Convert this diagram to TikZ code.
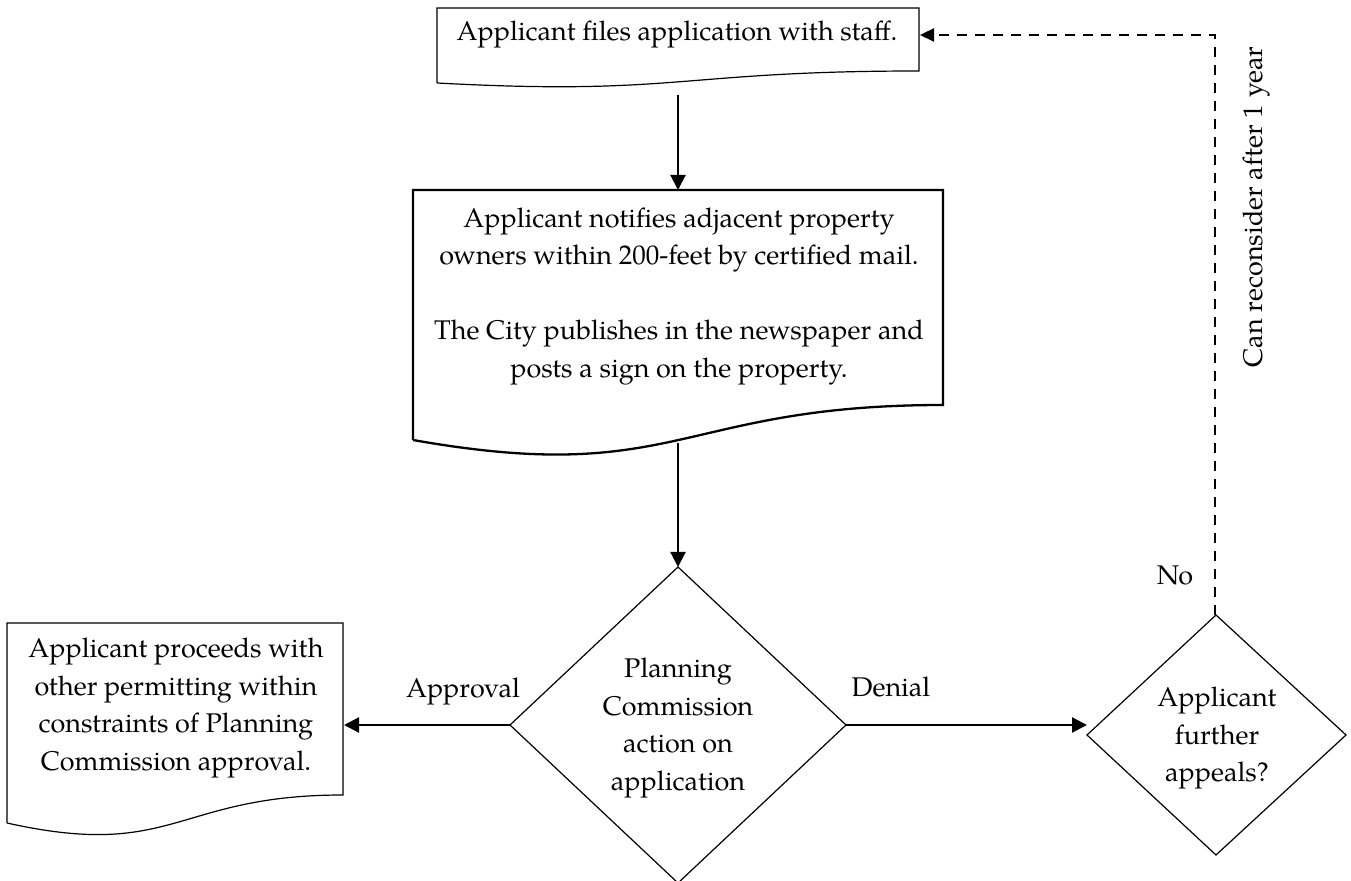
\documentclass[tikz,border=0pt]{standalone}
\usepackage{fontspec}
\setmainfont{texgyrepagella-regular.otf}
\usetikzlibrary{arrows.meta}
\tikzset{
  px/.style={x=0.5pt,y=-0.5pt},
  txt/.style={inner sep=0pt,font=\fontsize{13.5pt}{18.75pt}\selectfont,align=center},
  thinln/.style={draw=black,line width=0.6pt},
  thickln/.style={draw=black,line width=1.15pt},
  arr/.style={line width=1.1pt,-{Triangle[length=7.5pt,width=7.5pt]}},
  darr/.style={line width=1.1pt,dash pattern=on 5pt off 4pt,-{Triangle[length=7pt,width=6.5pt]}}
}
\begin{document}
\begin{tikzpicture}[px]
\useasboundingbox (0,0) rectangle (1351,881);
\begin{scope}
\clip (0,0) rectangle (1351,881);
% top document
\draw[thinln] (437,83) -- (437,8) -- (919,8) -- (919,71)
  .. controls (678,71) and (678,96) .. (437,83);
% middle document
\draw[thickln] (413,440) -- (413,190) -- (943,190) -- (943,405)
  .. controls (678,405) and (678,487) .. (413,440);
% left document
\draw[thinln] (7,823) -- (7,623) -- (343,623) -- (343,795)
  .. controls (175,795) and (175,860.5) .. (7,823);
% diamonds
\draw[thinln] (678,567) -- (846,725) -- (678,883) -- (510,725) -- cycle;
\draw[thinln] (1216,615) -- (1346,735) -- (1216,855) -- (1087,735) -- cycle;
\end{scope}

% texts
\node[txt,anchor=base] (t1) at (677,41) {Applicant files application with staff.};
\node[txt] (t2) at (679,296) {Applicant notifies adjacent property\\owners within 200-feet by certified mail.\\[18.75pt]The City publishes in the newspaper and\\posts a sign on the property.};
\node[txt] (t3) at (176,708) {Applicant proceeds with\\other permitting within\\constraints of Planning\\Commission approval.};
\node[txt] (t4) at (678,728) {Planning\\Commission\\action on\\application};
\node[txt] (t5) at (1217,738) {Applicant\\further\\appeals?};
\node[txt,anchor=base] (lA) at (463,698) {Approval};
\node[txt,anchor=base] (lD) at (891,697) {Denial};
\node[txt,anchor=base] (lN) at (1175,585) {No};
\node[txt,rotate=90] (lC) at (1256,207) {Can reconsider after 1 year};

% connector coordinates
\coordinate (a1s) at (678,95);
\coordinate (a1e) at (678,190);
\coordinate (a2s) at (678,443);
\coordinate (a2e) at (678,567);
\coordinate (d1l) at (510,725);
\coordinate (d1r) at (846,725);
\coordinate (b3r) at (344,725);
\coordinate (d2l) at (1087,725);
\coordinate (d2t) at (1215,615);
\coordinate (crn) at (1215,35);
\coordinate (b1r) at (920,35);

\draw[arr] (a1s) -- (a1e);
\draw[arr] (a2s) -- (a2e);
\draw[arr] (d1l) -- (b3r);
\draw[arr] (d1r) -- (d2l);
\draw[darr] (d2t) -- (crn) -- (b1r);
\end{tikzpicture}
\end{document}
